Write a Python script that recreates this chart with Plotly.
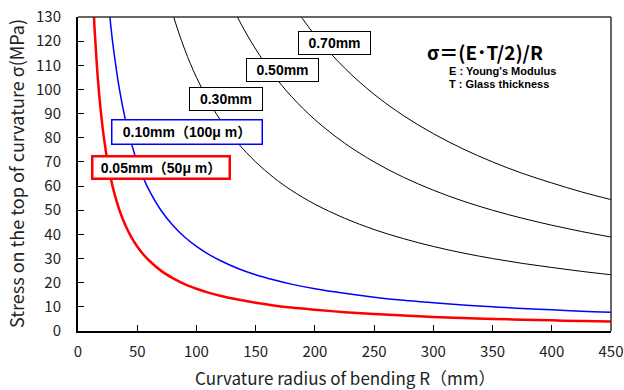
import plotly.graph_objects as go

# Curvature radius R (mm) sample points
R_thin = [10, 12, 14, 16, 18, 20, 22, 25, 28, 30, 35, 40, 45, 50, 55, 60, 70, 80, 90, 100,
          110, 120, 135, 150, 165, 180, 200, 225, 250, 275, 300, 325, 350, 375, 400, 425, 450]
s_005 = [175, 145.8, 125, 109.4, 97.2, 87.5, 79.5, 70, 62.5, 58.3, 50, 43.8, 38.9, 35, 31.8, 29.2,
         25, 21.9, 19.4, 17.5, 15.9, 14.6, 13, 11.7, 10.6, 9.7, 8.8, 7.8, 7, 6.4, 5.8, 5.4, 5,
         4.7, 4.4, 4.1, 3.9]
s_010 = [350, 291.7, 250, 218.8, 194.4, 175, 159.1, 140, 125, 116.7, 100, 87.5, 77.8, 70, 63.6,
         58.3, 50, 43.8, 38.9, 35, 31.8, 29.2, 25.9, 23.3, 21.2, 19.4, 17.5, 15.6, 14, 12.7,
         11.7, 10.8, 10, 9.3, 8.8, 8.2, 7.8]

R_030 = [70, 80, 90, 100, 110, 120, 135, 150, 165, 180, 200, 225, 250, 275, 300, 325, 350, 375, 400, 425, 450]
s_030 = [150, 131.3, 116.7, 105, 95.5, 87.5, 77.8, 70, 63.6, 58.3, 52.5, 46.7, 42, 38.2, 35,
         32.3, 30, 28, 26.3, 24.7, 23.3]
R_050 = [120, 135, 150, 165, 180, 200, 225, 250, 275, 300, 325, 350, 375, 400, 425, 450]
s_050 = [145.8, 129.6, 116.7, 106.1, 97.2, 87.5, 77.8, 70, 63.6, 58.3, 53.8, 50, 46.7, 43.8, 41.2, 38.9]
R_070 = [170, 180, 200, 225, 250, 275, 300, 325, 350, 375, 400, 425, 450]
s_070 = [144.1, 136.1, 122.5, 108.9, 98, 89.1, 81.7, 75.4, 70, 65.3, 61.3, 57.6, 54.4]

x_ticks = [0, 50, 100, 150, 200, 250, 300, 350, 400, 450]
y_ticks = list(range(0, 131, 10))

fig = go.Figure()
fig.add_trace(go.Scatter(x=R_070, y=s_070, mode="lines", line=dict(color="black", width=1, shape="spline")))
fig.add_trace(go.Scatter(x=R_050, y=s_050, mode="lines", line=dict(color="black", width=1, shape="spline")))
fig.add_trace(go.Scatter(x=R_030, y=s_030, mode="lines", line=dict(color="black", width=1, shape="spline")))
fig.add_trace(go.Scatter(x=R_thin, y=s_010, mode="lines", line=dict(color="blue", width=1.5, shape="spline")))
fig.add_trace(go.Scatter(x=R_thin, y=s_005, mode="lines", line=dict(color="red", width=2.5, shape="spline")))

L, R, T, B = 78, 13, 17, 59
W, H = 624 - L - R, 390 - T - B

def px(x):
    return (x - L) / W

def py(y):
    return (390 - B - y) / H

lab_font = dict(family="Liberation Sans, Noto Sans CJK JP", size=14, color="black")
boxes = [
    ("<b>0.70mm</b>", 298, 371, 31, 55, "black", 1),
    ("<b>0.50mm</b>", 246, 319, 58, 82, "black", 1),
    ("<b>0.30mm</b>", 189, 263, 87, 111, "black", 1),
    ("<b>0.10mm（100μ m）</b>", 111, 263, 119, 145, "blue", 1.5),
    ("<b>0.05mm（50μ m）</b>", 91, 231, 155, 180, "red", 2.5),
]
for txt, x0, x1, y0, y1, col, bw in boxes:
    fig.add_annotation(x=px((x0 + x1) / 2), y=py((y0 + y1) / 2), xref="paper", yref="paper",
                       text=txt, showarrow=False, font=lab_font, bgcolor="white",
                       bordercolor=col, borderwidth=bw, borderpad=0,
                       width=x1 - x0 - 2 * bw, height=y1 - y0 - 2 * bw,
                       xanchor="center", yanchor="middle")

fig.add_annotation(x=px(485), y=py(52), xref="paper", yref="paper",
                   text="<b>σ＝(E･T/2)/R</b>", showarrow=False,
                   font=dict(family="Noto Sans CJK JP", size=19, color="black"),
                   xanchor="center", yanchor="middle")
fig.add_annotation(x=px(447), y=py(71), xref="paper", yref="paper",
                   text="<b>E : Young's Modulus</b>", showarrow=False,
                   font=dict(family="Liberation Sans, Arial", size=11, color="black"),
                   xanchor="left", yanchor="middle")
fig.add_annotation(x=px(447), y=py(84), xref="paper", yref="paper",
                   text="<b>T : Glass thickness</b>", showarrow=False,
                   font=dict(family="Liberation Sans, Arial", size=11, color="black"),
                   xanchor="left", yanchor="middle")

# axis titles
title_font = dict(family="Noto Sans CJK JP", size=17, color="#222")
fig.add_annotation(x=px(345), y=py(377), xref="paper", yref="paper",
                   text="Curvature radius of bending R（mm）", showarrow=False,
                   font=title_font, xanchor="center", yanchor="middle")
fig.add_annotation(x=px(16), y=py(174), xref="paper", yref="paper",
                   text="Stress on the top of curvature σ(MPa)", showarrow=False,
                   font=dict(family="Noto Sans CJK JP", size=18, color="#222"),
                   textangle=-90, xanchor="center", yanchor="middle")

# top/right thin frame
fig.add_shape(type="line", xref="paper", yref="paper", x0=0, x1=1, y0=1, y1=1,
              line=dict(color="#333", width=1.5))
fig.add_shape(type="line", xref="paper", yref="paper", x0=1, x1=1, y0=0, y1=1,
              line=dict(color="#333", width=1.5))

tick_font = dict(family="Noto Sans CJK JP", size=15, color="#222")
fig.update_layout(
    width=624, height=390,
    margin=dict(l=L, r=R, t=T, b=B, autoexpand=False),
    paper_bgcolor="white", plot_bgcolor="white",
    showlegend=False,
    font=dict(family="Noto Sans CJK JP", color="#222"),
    xaxis=dict(range=[0, 450], tickvals=x_ticks, showgrid=False, zeroline=False,
               showline=True, linecolor="black", linewidth=2, automargin=False,
               ticks="inside", ticklen=6, tickcolor="black", tickwidth=1,
               tickfont=tick_font, ticklabelstandoff=6),
    yaxis=dict(range=[0, 130], tickvals=y_ticks, showgrid=False, zeroline=False,
               showline=True, linecolor="black", linewidth=2, automargin=False,
               ticks="inside", ticklen=6, tickcolor="black", tickwidth=1,
               tickfont=tick_font, ticklabelstandoff=12),
)

fig.write_html("out.html", config={"displayModeBar": False},
               post_script="document.body.style.margin='0';document.body.style.overflow='hidden';")
